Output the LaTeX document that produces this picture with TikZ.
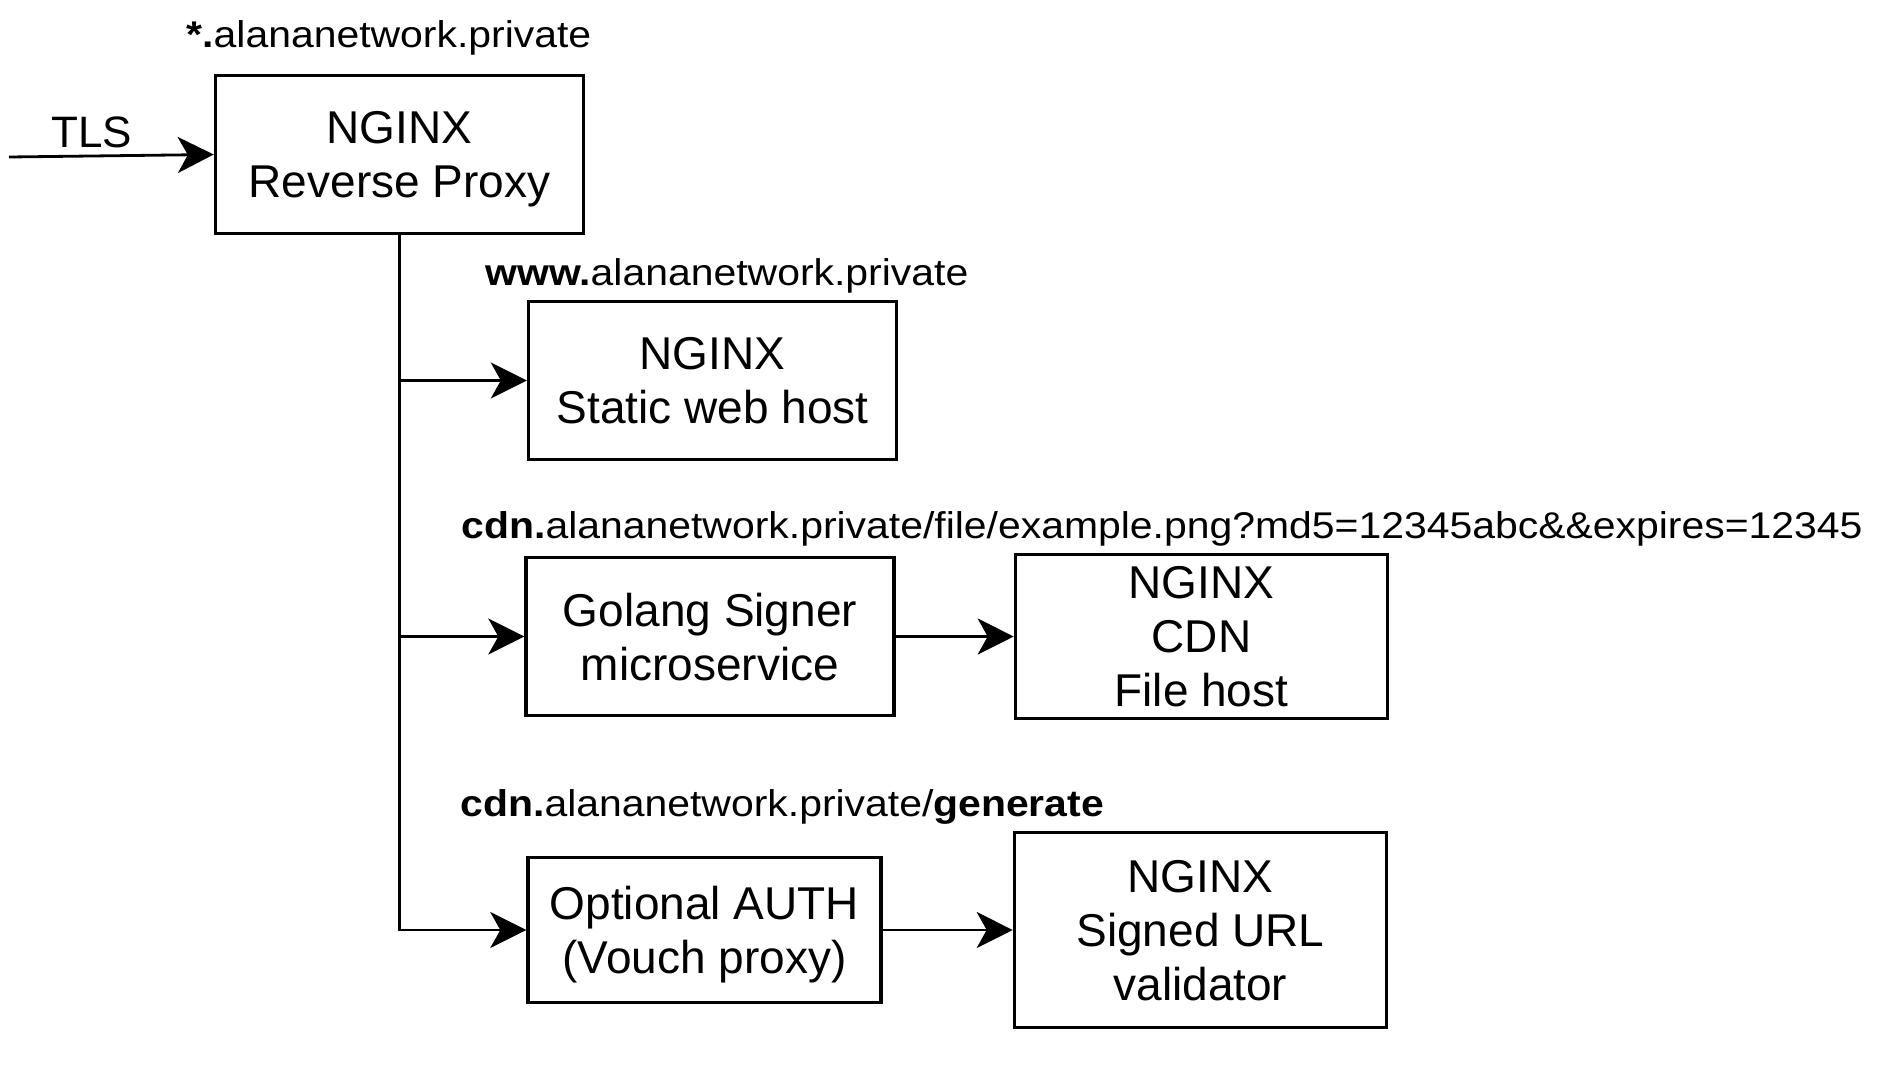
\documentclass[tikz,border=0pt]{standalone}
\usepackage{fontspec}
\setmainfont{Liberation Sans}
\newfontfamily\urlfont{Liberation Sans}[FakeStretch=1.1]
\usetikzlibrary{arrows.meta,positioning}

\tikzset{
    hostbox/.style={draw, line width=1.7pt, align=center, inner sep=0pt,
        text depth=0pt, font=\fontsize{23}{27}\selectfont},
    hostname/.style={anchor=base west, inner sep=0pt,
        font=\urlfont\fontsize{18.6}{22}\selectfont},
    link/.style={line width=1.4pt, -{Stealth[length=18pt,width=18pt,inset=5pt]}}
}

\begin{document}
\begin{tikzpicture}[x=0.5pt,y=-0.5pt]
\useasboundingbox (0,0) rectangle (1884,1072);

\node[hostbox,
    minimum width=184pt,
    minimum height=79pt
] (proxy) at (399.5,154.5) {NGINX\\Reverse Proxy};

\node[hostbox,
    minimum width=184pt,
    minimum height=79pt
] (web) at (712.5,380.5) {NGINX\\Static web host};

\node[hostbox,
    minimum width=184pt,
    minimum height=79pt
] (signer) at (710,636.5) {Golang Signer\\microservice};

\node[hostbox,
    right=59pt of signer,
    minimum width=186pt,
    minimum height=82pt
] (cdnhost) {NGINX\\CDN\\File host};

\node[hostbox,
    minimum width=176.5pt,
    minimum height=72.5pt
] (auth) at (704.5,930) {Optional AUTH\\(Vouch proxy)};

\node[hostbox,
    right=65pt of auth,
    minimum width=186pt,
    minimum height=97.5pt
] (validator) {NGINX\\Signed URL\\validator};

% hostnames above the boxes
\node[hostname] (wildlbl) at (186,47) {\textbf{*.}alananetwork.private};
\node[hostname] (wwwlbl) at (485,285) {\textbf{www.}alananetwork.private};
\node[hostname] (filelbl) at (461,538)
    {\textbf{cdn.}alananetwork.private/file/example.png?md5=12345abc\&\&expires=12345};
\node[hostname] (genlbl) at (460,816) {\textbf{cdn.}alananetwork.private/\textbf{generate}};

\node[anchor=base west, inner sep=0pt, font=\fontsize{22}{26}\selectfont] (tlslbl) at (51,147) {TLS};
\coordinate (tlsin) at (9,157);

\draw[link] (tlsin) -- (proxy.west);

\draw[link] (proxy.south) |- (auth.west);
\draw[link] (proxy.south |- web.west) -- (web.west);
\draw[link] (proxy.south |- signer.west) -- (signer.west);

\draw[link] (signer) -- (cdnhost);
\draw[link] (auth) -- (validator);

\end{tikzpicture}
\end{document}
